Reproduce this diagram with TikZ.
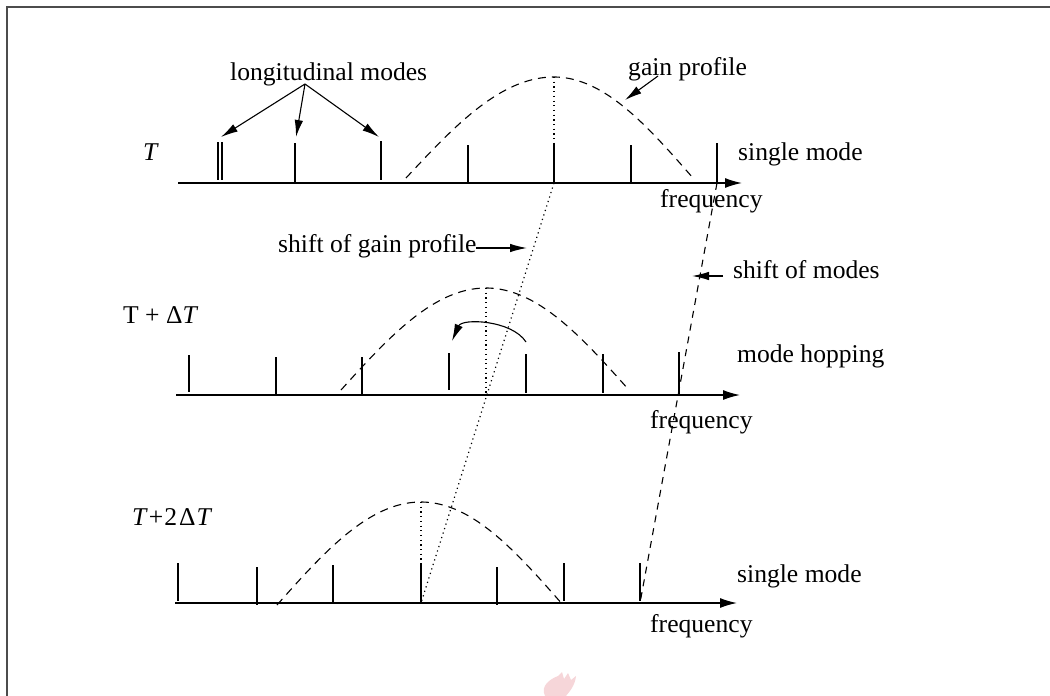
\documentclass[tikz,border=0pt]{standalone}
\usepackage{fontspec}
\setmainfont{Liberation Serif}
\usetikzlibrary{arrows.meta}

% dashed gain curve: #1 left foot x, #2 peak x, #3 right foot x, #4 peak y, #5 foot y
\newcommand\gainprofile[5]{%
  \draw[gaincurve] plot[domain=-1:1,samples=61,smooth]
    ({#2+\x*(\x<0?(#2-#1):(#3-#2))},{#5-(#5-#4)*cos(90*\x)});}

\begin{document}
\begin{tikzpicture}[x=1pt,y=-1pt,
  lbl/.style={inner sep=0pt, anchor=base west, font=\fontsize{25.6}{30}\selectfont},
  axisline/.style={line width=1.4pt, -{Latex[length=17pt,width=10pt]}},
  tickmark/.style={line width=2.1pt},
  gaincurve/.style={line width=1.1pt, dash pattern=on 8pt off 6pt},
  gainshift/.style={line width=1.2pt, dash pattern=on 1.2pt off 3.5pt},
  modeshift/.style={line width=1.1pt, dash pattern=on 7pt off 6pt},
  pointer/.style={line width=1.1pt, -{Latex[length=17pt,width=8.5pt]}},
]
\useasboundingbox (0,0) rectangle (1050,696);

% frame
\draw[line width=2.2pt, black!70] (7,696) -- (7,7) -- (1050,7);

% faint mark at the bottom edge
\fill[fill={rgb,255:red,246;green,214;blue,217}]
  (545,696) .. controls (540,686) and (550,679) .. (558,676) -- (562,672)
  -- (564,679) -- (568,673) -- (571,680) -- (576,676)
  .. controls (575,686) and (569,692) .. (566,696) -- cycle;

% ---------- temperature T ----------
\coordinate (a1s) at (178,183); \coordinate (a1e) at (742,183);
\draw[axisline] (a1s) -- (a1e);
\draw[line width=1.6pt] (218.2,142) -- (218.2,180) (221.8,142) -- (221.8,180);
\foreach \x/\t/\b in {295/143/182, 381/141/180, 468/145/183, 554/143/183, 631/145/183, 717/143/183}
  \draw[tickmark] (\x,\t) -- (\x,\b);
\gainprofile{406}{554}{693}{77}{178}
\coordinate (pk1) at (554,77);  \coordinate (pk1b) at (554,183);
\coordinate (m1) at (717,183);

% ---------- temperature T + dT ----------
\coordinate (a2s) at (176,395); \coordinate (a2e) at (740,395);
\draw[axisline] (a2s) -- (a2e);
\foreach \x/\t/\b in {189/355/392, 276/357/395, 362/357/395, 449/353/390, 526/354/393, 603/354/393, 679/352/395}
  \draw[tickmark] (\x,\t) -- (\x,\b);
\gainprofile{341}{486}{629}{288}{390}
\coordinate (pk2) at (486,288);  \coordinate (pk2b) at (486,395);

% ---------- temperature T + 2dT ----------
\coordinate (a3s) at (175,603); \coordinate (a3e) at (737,603);
\draw[axisline] (a3s) -- (a3e);
\foreach \x/\t/\b in {178/563/601, 257/567/605, 333/565/603, 421/563/603, 497/567/605, 564/563/601, 640/563/601}
  \draw[tickmark] (\x,\t) -- (\x,\b);
\gainprofile{277}{421}{563}{502}{605}
\coordinate (pk3) at (421,502);  \coordinate (pk3b) at (421,603);
\coordinate (m3) at (640,603);

% gain-peak markers and the shift of the gain profile
\draw[gainshift] (pk1) -- (pk1b);
\draw[gainshift] (pk2) -- (pk2b);
\draw[gainshift] (pk3) -- (pk3b);
\draw[gainshift] (pk1b) -- (pk3b);

% shift of the modes
\draw[modeshift] (m1) -- (m3);

% mode hop
\coordinate (hopA) at (526,342); \coordinate (hopB) at (452,341);
\draw[pointer] (hopA) .. controls (512,320) and (462,318) .. (hopB);

% ---------- labels ----------
\node[lbl] (lmodes) at (230,80) {longitudinal modes};
\node[lbl] (tA) at (143,160) {\textit{T}};
\node[lbl] (gprof) at (628,75) {gain profile};
\node[lbl] (sm1) at (738,160) {single mode};
\node[lbl] (f1) at (660,207) {frequency};
\node[lbl] (sgp) at (278,252) {shift of gain profile};
\node[lbl] (smod) at (733,278) {shift of modes};
\node[lbl] (tB) at (123,323) {T + Δ\textit{T}};
\node[lbl] (mh) at (737,362) {mode hopping};
\node[lbl] (f2) at (650,428) {frequency};
\node[lbl] (tC) at (132,525) {\textit{T}\kern1pt+\kern1pt2\kern2ptΔ\kern1pt\textit{T}};
\node[lbl] (sm3) at (737,582) {single mode};
\node[lbl] (f3) at (650,632) {frequency};

% label pointers
\coordinate (lmfoot) at (305,84);
\coordinate (lmA) at (221,137); \coordinate (lmB) at (296,137); \coordinate (lmC) at (379,137);
\draw[pointer] (lmfoot) -- (lmA);
\draw[pointer] (lmfoot) -- (lmB);
\draw[pointer] (lmfoot) -- (lmC);

\coordinate (gpfoot) at (658,76); \coordinate (gptip) at (625,100);
\draw[pointer] (gpfoot) -- (gptip);

\coordinate (sgpfoot) at (476,248); \coordinate (sgptip) at (527,248);
\draw[pointer] (sgpfoot) -- (sgptip);

\coordinate (smfoot) at (723,276); \coordinate (smtip) at (692,276);
\draw[pointer] (smfoot) -- (smtip);
\end{tikzpicture}
\end{document}
